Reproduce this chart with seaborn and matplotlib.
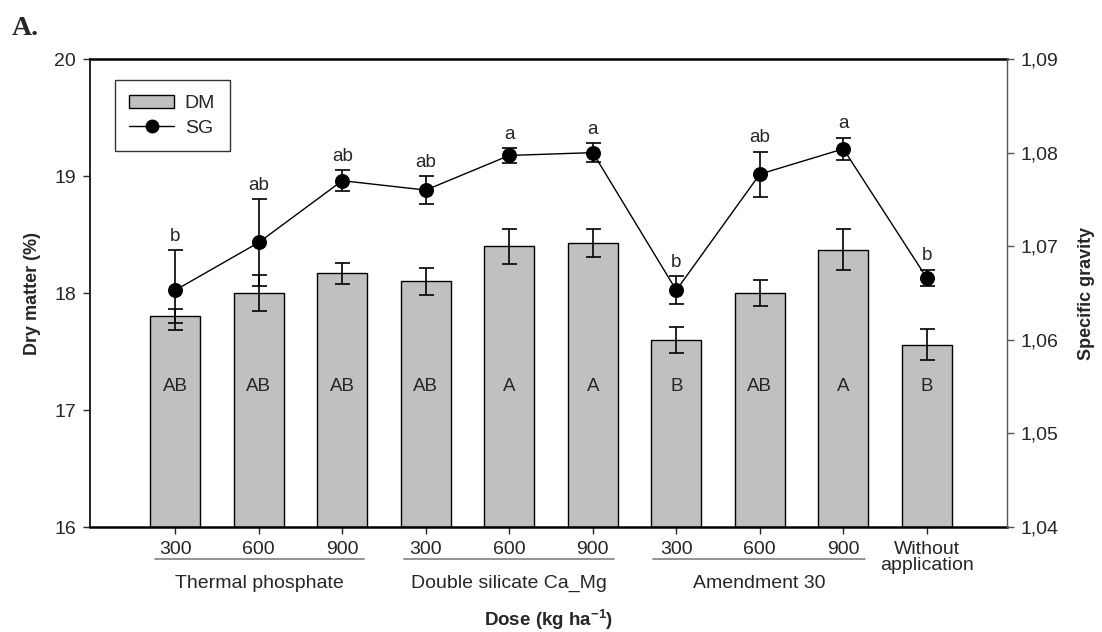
import matplotlib
matplotlib.use("Agg")
import matplotlib.pyplot as plt
import matplotlib.transforms as mtransforms
from matplotlib.patches import Patch
from matplotlib.lines import Line2D
from matplotlib.ticker import FuncFormatter, FixedLocator
import numpy as np
import pandas as pd
import seaborn as sns

# ---- data ----
dose_labels = ["300", "600", "900", "300", "600", "900", "300", "600", "900",
               "Without\napplication"]
groups = ["Thermal phosphate", "Double silicate Ca_Mg", "Amendment 30"]
dm_mean = [17.80, 18.00, 18.17, 18.10, 18.40, 18.43, 17.60, 18.00, 18.37, 17.56]
dm_err = [0.06, 0.15, 0.09, 0.115, 0.15, 0.12, 0.11, 0.115, 0.175, 0.13]
dm_letters = ["AB", "AB", "AB", "AB", "A", "A", "B", "AB", "A", "B"]
sg_mean = [1.0653, 1.0704, 1.0770, 1.0760, 1.0797, 1.0800, 1.0653, 1.0777, 1.0804, 1.0666]
sg_err = [0.0043, 0.0046, 0.0011, 0.0015, 0.0008, 0.0010, 0.0015, 0.0024, 0.0012, 0.0009]
sg_letters = ["b", "ab", "ab", "ab", "a", "a", "b", "ab", "a", "b"]

sns.set_style("ticks")
plt.rcParams["font.family"] = ["Liberation Sans", "DejaVu Sans"]
plt.rcParams["mathtext.default"] = "regular"

df = pd.DataFrame({"treatment": [f"t{i}" for i in range(len(dm_mean))],
                   "dm": dm_mean})
pos = np.arange(len(dm_mean))

fig = plt.figure(figsize=(11.02, 6.32), dpi=100)
ax = fig.add_axes([0.0817, 0.1661, 0.8321, 0.7405])

# Dry matter bars
sns.barplot(data=df, x="treatment", y="dm", ax=ax, color="#c0c0c0",
            saturation=1, width=0.6, edgecolor="black", linewidth=1.0,
            errorbar=None, zorder=2)
for p in ax.patches:
    p.set_y(16)
    p.set_height(p.get_height() - 16)
ax.errorbar(pos, dm_mean, yerr=dm_err, fmt="none", ecolor="black",
            elinewidth=1.2, capsize=5.4, capthick=1.2, zorder=3)
for i, lab in enumerate(dm_letters):
    ax.text(i, 17.2, lab, ha="center", va="center", fontsize=13.5, zorder=4)

ax.set_xlim(-1.02, 9.96)
ax.set_ylim(16, 20)
ax.set_yticks([16, 17, 18, 19, 20])
ax.set_xticks(pos)
ax.set_xticklabels(dose_labels, fontsize=14, linespacing=0.95)
ax.tick_params(axis="y", labelsize=14, length=5, width=1, direction="out", pad=5)
ax.tick_params(axis="x", length=5, width=1, direction="out", pad=5)
ax.set_xlabel("")
ax.set_ylabel("Dry matter (%)", fontsize=13, fontweight="bold", labelpad=10)
for side in ["left", "bottom", "top"]:
    ax.spines[side].set_visible(True)
    ax.spines[side].set_color("black")
ax.spines["bottom"].set_linewidth(1.8)
ax.spines["top"].set_linewidth(1.8)
ax.spines["left"].set_linewidth(1.2)
ax.spines["right"].set_visible(False)

# Specific gravity on the secondary axis
ax2 = ax.twinx()
ax2.errorbar(pos, sg_mean, yerr=sg_err, fmt="none", ecolor="black",
             elinewidth=1.2, capsize=5.4, capthick=1.2, zorder=3)
sns.lineplot(x=pos, y=sg_mean, ax=ax2, color="black", linewidth=1.0,
             marker="o", markersize=10, markeredgecolor="black",
             markerfacecolor="black", zorder=4)
for i, lab in enumerate(sg_letters):
    ax2.annotate(lab, xy=(i, sg_mean[i] + sg_err[i]), xytext=(0, 10),
                 textcoords="offset points", ha="center", va="center",
                 fontsize=13.5)
ax2.set_ylim(1.04, 1.09)
ax2.yaxis.set_major_locator(FixedLocator([1.04, 1.05, 1.06, 1.07, 1.08, 1.09]))
ax2.yaxis.set_major_formatter(FuncFormatter(lambda v, _: f"{v:.2f}".replace(".", ",")))
ax2.tick_params(axis="y", labelsize=14, length=5, width=1, direction="out",
                pad=5, color="#555555")
ax2.set_ylabel("Specific gravity", fontsize=13, fontweight="bold", labelpad=14)
ax2.spines["right"].set_visible(True)
ax2.spines["right"].set_color("#555555")
ax2.spines["right"].set_linewidth(1.0)
for side in ["left", "top", "bottom"]:
    ax2.spines[side].set_visible(False)

# Product groups under the dose ticks
trans = mtransforms.blended_transform_factory(ax.transData, ax.transAxes)
group_spans = [(-0.24, 2.26), (2.74, 5.26), (5.72, 8.26)]
for (x0, x1), name in zip(group_spans, groups):
    ax.plot([x0, x1], [-0.0684, -0.0684], transform=trans, color="#808080",
            linewidth=1.2, clip_on=False)
    ax.text((x0 + x1) / 2, -0.12, name, transform=trans, ha="center",
            va="center", fontsize=14)
ax.text(0.5, -0.198, "Dose (kg ha$^{-1}$)", transform=ax.transAxes,
        ha="center", va="center", fontsize=13.5, fontweight="bold")

# Legend
handles = [Patch(facecolor="#c0c0c0", edgecolor="black", linewidth=1.0, label="DM"),
           Line2D([0], [0], color="black", linewidth=1.0, marker="o",
                  markersize=9, label="SG")]
leg = ax2.legend(handles=handles, loc="upper left",
                 bbox_to_anchor=(0.027, 0.955), borderaxespad=0,
                 frameon=True, fancybox=False, edgecolor="black",
                 fontsize=14, handlelength=2.3, handletextpad=0.55,
                 borderpad=0.75, labelspacing=0.35)
leg.get_frame().set_linewidth(1.0)

# Panel tag
fig.text(0.011, 0.955, "A.", fontsize=20, fontweight="bold",
         family=["Liberation Serif", "DejaVu Serif"], ha="left", va="center")

fig.savefig("out.png", dpi=100)
